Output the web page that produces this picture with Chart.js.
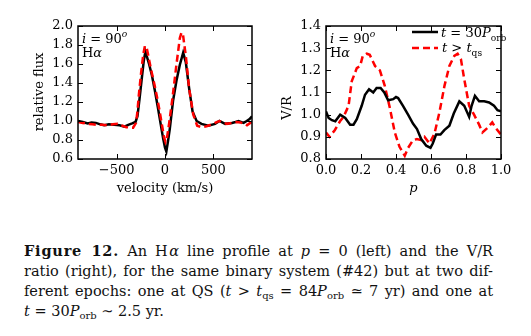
<!DOCTYPE html>
<html>
<head>
<meta charset="utf-8">
<script src="https://cdn.jsdelivr.net/npm/chart.js@4.4.0/dist/chart.umd.min.js"></script>
<style>
body { margin: 0; background: #fff; width: 531px; height: 336px; overflow: hidden; position: relative; font-family: 'DejaVu Serif', serif; }
#gl { position: absolute; left: 0; top: 0; }
#gr { position: absolute; left: 265px; top: 0; }
#cap { position: absolute; left: 24px; top: 241px; width: 469px; font-size: 14.5px; line-height: 20px; color: #111; }
#cap div { text-align: justify; text-align-last: justify; }
#cap div.last { text-align-last: left; }
#cap b { letter-spacing: 0.8px; }
#cap sub { font-size: 10px; line-height: 0; vertical-align: -3px; }
</style>
</head>
<body>
<canvas id="gl" width="265" height="200"></canvas>
<canvas id="gr" width="266" height="200"></canvas>
<div id="cap">
  <div><b>Figure 12.</b> An H&#8202;<i>α</i> line profile at <i>p</i> = 0 (left) and the V/R</div>
  <div>ratio (right), for the same binary system (#42) but at two dif-</div>
  <div>ferent epochs: one at QS (<i>t</i> &gt; <i>t</i><sub>qs</sub> = 84<i>P</i><sub>orb</sub> ≃ 7 yr) and one at</div>
  <div class="last"><i>t</i> = 30<i>P</i><sub>orb</sub> ∼ 2.5 yr.</div>
</div>
<script>
// profilo H-alfa (sinistra)
const velNero = [-900, -850, -800, -760, -715, -670, -630, -580, -525, -470, -420, -380, -340, -305, -285, -265, -240, -220, -203, -185, -165, -135, -105, -75, -45, -20, 0, 14, 30, 50, 83, 118, 153, 188, 215, 250, 285, 327, 377, 448, 518, 563, 622, 692, 730, 761, 813, 845, 875, 900];
const flussoNero = [1.00, 0.99, 0.975, 0.985, 0.98, 0.965, 0.955, 0.965, 0.96, 0.955, 0.94, 0.96, 0.975, 0.99, 1.05, 1.22, 1.45, 1.63, 1.73, 1.67, 1.60, 1.48, 1.32, 1.15, 0.97, 0.82, 0.72, 0.68, 0.78, 0.92, 1.21, 1.42, 1.59, 1.72, 1.62, 1.34, 1.10, 1.00, 0.97, 0.95, 0.97, 1.00, 0.97, 0.98, 0.99, 1.00, 0.98, 1.00, 1.02, 1.05];
const velRosso = [-900, -850, -800, -750, -700, -650, -595, -540, -490, -440, -400, -360, -330, -300, -285, -271, -247, -225, -208, -192, -175, -160, -135, -108, -80, -55, -30, -10, 5, 20, 42, 77, 118, 153, 170, 185, 200, 215, 250, 292, 333, 377, 430, 500, 540, 563, 600, 640, 692, 740, 778, 820, 848, 875, 900];
const flussoRosso = [0.99, 0.98, 0.97, 0.965, 0.96, 0.96, 0.955, 0.965, 0.97, 0.95, 0.935, 0.93, 0.93, 0.98, 1.10, 1.27, 1.51, 1.70, 1.79, 1.78, 1.70, 1.62, 1.50, 1.38, 1.24, 1.10, 0.95, 0.83, 0.78, 0.82, 0.97, 1.24, 1.59, 1.87, 1.93, 1.92, 1.80, 1.69, 1.34, 1.07, 0.95, 0.935, 0.945, 0.97, 0.99, 1.00, 0.985, 0.97, 0.98, 0.99, 0.985, 0.97, 0.955, 0.975, 0.99];

// rapporto V/R (destra)
const faseNero = [0, 0.015, 0.034, 0.053, 0.081, 0.11, 0.138, 0.157, 0.176, 0.204, 0.223, 0.246, 0.27, 0.289, 0.312, 0.333, 0.355, 0.384, 0.40, 0.412, 0.44, 0.469, 0.497, 0.52, 0.544, 0.573, 0.597, 0.61, 0.629, 0.654, 0.676, 0.705, 0.73, 0.762, 0.79, 0.818, 0.832, 0.851, 0.875, 0.904, 0.932, 0.96, 0.98, 1.0];
const vrNero = [1.015, 0.985, 0.975, 0.97, 1.0, 0.985, 0.955, 0.955, 0.98, 1.04, 1.09, 1.115, 1.10, 1.12, 1.12, 1.10, 1.065, 1.07, 1.08, 1.075, 1.04, 1.0, 0.96, 0.935, 0.89, 0.86, 0.85, 0.87, 0.91, 0.91, 0.93, 0.95, 1.005, 1.06, 1.04, 0.99, 1.04, 1.085, 1.06, 1.06, 1.055, 1.04, 1.02, 1.015];
const faseRosso = [0, 0.02, 0.05, 0.08, 0.10, 0.129, 0.147, 0.176, 0.195, 0.21, 0.233, 0.25, 0.28, 0.308, 0.336, 0.365, 0.393, 0.42, 0.45, 0.469, 0.497, 0.52, 0.544, 0.563, 0.591, 0.62, 0.648, 0.677, 0.705, 0.733, 0.752, 0.771, 0.79, 0.818, 0.846, 0.875, 0.894, 0.922, 0.95, 0.97, 1.0];
const vrRosso = [0.92, 0.90, 0.93, 0.97, 0.99, 1.04, 1.15, 1.21, 1.22, 1.265, 1.275, 1.27, 1.22, 1.20, 1.13, 1.03, 0.92, 0.855, 0.815, 0.85, 0.885, 0.89, 0.885, 0.90, 0.87, 0.915, 1.01, 1.13, 1.22, 1.265, 1.275, 1.25, 1.16, 1.04, 1.0, 0.955, 0.92, 0.94, 0.965, 0.94, 0.91];

const tickVel = [-500, 0, 500];
const tickFlusso = [0.6, 0.8, 1.0, 1.2, 1.4, 1.6, 1.8, 2.0];
const tickFase = [0, 0.2, 0.4, 0.6, 0.8, 1.0];
const tickVR = [0.8, 0.9, 1.0, 1.1, 1.2, 1.3, 1.4];

Chart.defaults.font.family = "'DejaVu Serif', serif";
Chart.defaults.font.size = 13;
Chart.defaults.color = '#000';

function punti(xs, ys) {
    return xs.map((x, i) => ({ x: x, y: ys[i] }));
}

// testo con corsivo / pedici
function scriviTesto(ctx, x, y, pezzi, size) {
    pezzi.forEach(p => {
        const fs = (p.sub || p.sup) ? size * 0.7 : size;
        ctx.font = (p.it ? 'italic ' : '') + fs + "px 'DejaVu Serif'";
        const dy = p.sub ? size * 0.3 : (p.sup ? -size * 0.45 : 0);
        ctx.fillText(p.t, x, y + dy);
        x += ctx.measureText(p.t).width;
    });
}

const cornice = {
    id: 'cornice',
    afterDatasetsDraw(chart, args, opts) {
        const { ctx, chartArea: a, scales: { x, y } } = chart;
        ctx.save();
        ctx.strokeStyle = '#000';
        ctx.lineWidth = 1;
        ctx.beginPath();
        x.ticks.forEach(t => {
            const px = Math.round(x.getPixelForValue(t.value)) + 0.5;
            ctx.moveTo(px, a.bottom); ctx.lineTo(px, a.bottom - 5);
            ctx.moveTo(px, a.top); ctx.lineTo(px, a.top + 5);
        });
        y.ticks.forEach(t => {
            const py = Math.round(y.getPixelForValue(t.value)) + 0.5;
            ctx.moveTo(a.left, py); ctx.lineTo(a.left + 5, py);
            ctx.moveTo(a.right, py); ctx.lineTo(a.right - 5, py);
        });
        ctx.stroke();
        ctx.lineWidth = 1.5;
        ctx.strokeRect(a.left, a.top, a.right - a.left, a.bottom - a.top);

        ctx.fillStyle = '#000';
        ctx.textBaseline = 'alphabetic';
        ctx.textAlign = 'left';
        const x0 = a.left + 4;
        scriviTesto(ctx, x0, 43, [{ t: 'i', it: true }, { t: ' = 90' }, { t: 'o', it: true, sup: true }], 13);
        scriviTesto(ctx, x0, 57, [{ t: 'H' }, { t: 'α', it: true }], 13);

        // titolo asse y
        ctx.save();
        ctx.translate(opts.titoloY.x, opts.titoloY.y);
        ctx.rotate(-Math.PI / 2);
        ctx.textAlign = 'center';
        ctx.textBaseline = 'middle';
        ctx.font = "13px 'DejaVu Serif'";
        ctx.fillText(opts.titoloY.testo, 0, 0);
        ctx.restore();

        if (opts.legenda) {
            const lx = a.right - 89;
            ctx.lineWidth = 2.5;
            ctx.strokeStyle = '#000';
            ctx.beginPath(); ctx.moveTo(lx, 32); ctx.lineTo(lx + 26, 32); ctx.stroke();
            ctx.strokeStyle = '#ff0000';
            ctx.setLineDash([7, 4]);
            ctx.beginPath(); ctx.moveTo(lx, 48); ctx.lineTo(lx + 26, 48); ctx.stroke();
            ctx.setLineDash([]);
            scriviTesto(ctx, lx + 29, 37, [{ t: 't', it: true }, { t: ' = 30' }, { t: 'P', it: true }, { t: 'orb', sub: true }], 13);
            scriviTesto(ctx, lx + 30, 52, [{ t: 't', it: true }, { t: ' > ' }, { t: 't', it: true }, { t: 'qs', sub: true }], 13);
        }
        ctx.restore();
    }
};

function assi(xmin, xmax, tx, ymin, ymax, ty, titoloX, stileX, largY, fmtX) {
    return {
        x: {
            type: 'linear', min: xmin, max: xmax,
            afterBuildTicks: s => { s.ticks = tx.map(v => ({ value: v })); },
            afterFit: s => { s.height = 41; },
            grid: { display: false, drawTicks: false },
            border: { display: false },
            ticks: { padding: 4, autoSkip: false, maxRotation: 0, callback: fmtX },
            title: { display: true, text: titoloX, font: { style: stileX }, padding: { top: 0, bottom: 4 } }
        },
        y: {
            type: 'linear', min: ymin, max: ymax,
            afterBuildTicks: s => { s.ticks = ty.map(v => ({ value: v })); },
            afterFit: s => { s.width = largY; },
            grid: { display: false, drawTicks: false },
            border: { display: false },
            ticks: { padding: 5, autoSkip: false, callback: v => v.toFixed(1) }
        }
    };
}

const graficoSx = new Chart(document.getElementById('gl').getContext('2d'), {
    type: 'line',
    data: {
        datasets: [{
            data: punti(velRosso, flussoRosso),
            borderColor: '#ff0000',
            borderWidth: 2.5,
            borderDash: [7, 4],
            pointRadius: 0,
            fill: false
        }, {
            data: punti(velNero, flussoNero),
            borderColor: '#000',
            borderWidth: 2.5,
            pointRadius: 0,
            fill: false
        }]
    },
    options: {
        responsive: false,
        animation: false,
        devicePixelRatio: 1,
        layout: { padding: { left: 0, top: 26, right: 13, bottom: 0 } },
        plugins: {
            legend: { display: false }, tooltip: { enabled: false },
            cornice: { legenda: false, titoloY: { testo: 'relative flux', x: 40, y: 92 } }
        },
        scales: assi(-900, 900, tickVel, 0.6, 2.0, tickFlusso, 'velocity (km/s)', 'normal', 78,
            v => String(v).replace('-', '\u2212'))
    },
    plugins: [cornice]
});

const graficoDx = new Chart(document.getElementById('gr').getContext('2d'), {
    type: 'line',
    data: {
        datasets: [{
            data: punti(faseNero, vrNero),
            borderColor: '#000',
            borderWidth: 2.5,
            pointRadius: 0,
            fill: false
        }, {
            data: punti(faseRosso, vrRosso),
            borderColor: '#ff0000',
            borderWidth: 2.5,
            borderDash: [7, 4],
            pointRadius: 0,
            fill: false
        }]
    },
    options: {
        responsive: false,
        animation: false,
        devicePixelRatio: 1,
        layout: { padding: { left: 0, top: 26, right: 30, bottom: 0 } },
        plugins: {
            legend: { display: false }, tooltip: { enabled: false },
            cornice: { legenda: true, titoloY: { testo: 'V/R', x: 23, y: 108 } }
        },
        scales: assi(0, 1, tickFase, 0.8, 1.4, tickVR, 'p', 'italic', 61, v => v.toFixed(1))
    },
    plugins: [cornice]
});
</script>
</body>
</html>
